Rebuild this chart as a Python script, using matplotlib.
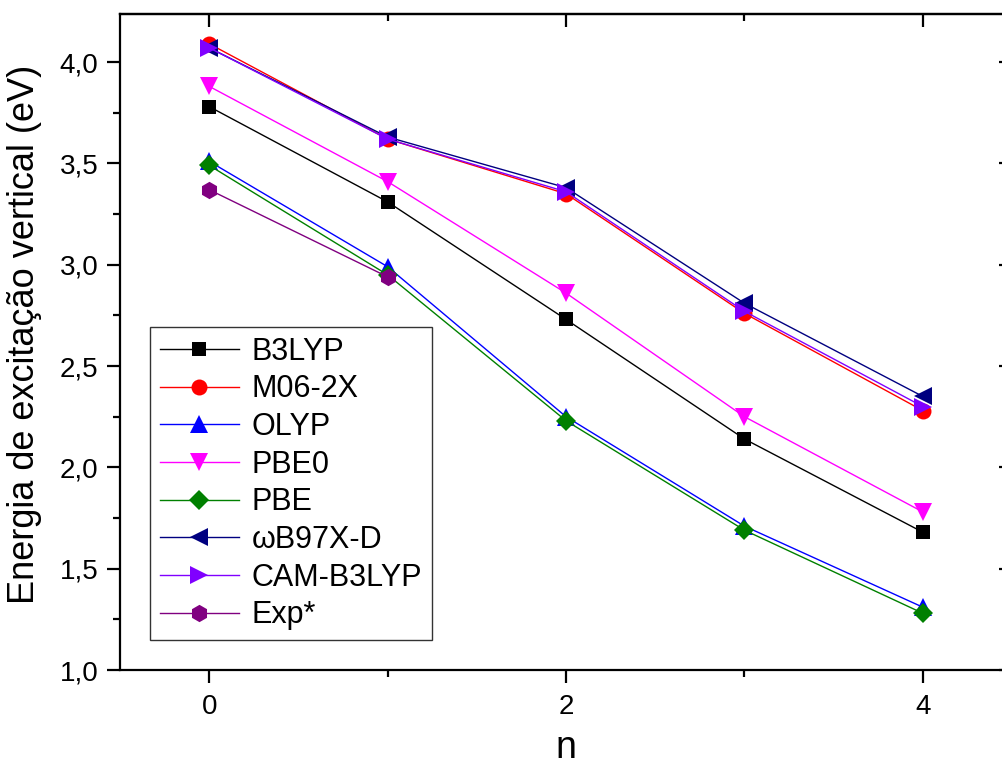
import matplotlib
matplotlib.use("Agg")
import matplotlib.pyplot as plt
from matplotlib.ticker import MultipleLocator, FuncFormatter

plt.rcParams['font.family'] = ['Liberation Sans', 'DejaVu Sans']

n = [0, 1, 2, 3, 4]
n_exp = [0, 1]

b3lyp = [3.78, 3.31, 2.73, 2.14, 1.68]
m062x = [4.09, 3.62, 3.35, 2.76, 2.28]
olyp = [3.51, 2.99, 2.25, 1.71, 1.31]
pbe0 = [3.88, 3.41, 2.86, 2.25, 1.78]
pbe = [3.49, 2.95, 2.23, 1.69, 1.28]
wb97xd = [4.07, 3.63, 3.38, 2.81, 2.35]
camb3lyp = [4.07, 3.62, 3.36, 2.77, 2.30]
exp = [3.37, 2.94]

series = [
    ("B3LYP", n, b3lyp, "#000000", "s"),
    ("M06-2X", n, m062x, "#FF0000", "o"),
    ("OLYP", n, olyp, "#0000FF", "^"),
    ("PBE0", n, pbe0, "#FF00FF", "v"),
    ("PBE", n, pbe, "#008000", "D"),
    ("\u03c9B97X-D", n, wb97xd, "#000080", "<"),
    ("CAM-B3LYP", n, camb3lyp, "#8000FF", ">"),
    ("Exp*", n_exp, exp, "#800080", "h"),
]
sizes = {"s": 10.5, "o": 11.5, "^": 13, "v": 13, "D": 10.5, "<": 13, ">": 13, "h": 12.5}

fig = plt.figure(figsize=(10.03, 7.66), dpi=100)
ax = fig.add_axes([120/1003, 96/766, 892/1003, 656/766])

for label, x, y, c, m in series:
    ax.plot(x, y, color=c, marker=m, markersize=sizes[m], linewidth=1.0,
            markeredgewidth=0, label=label)

ax.set_xlim(-0.5, 4.5)
ax.set_ylim(1.0, 4.237)
ax.xaxis.set_major_locator(MultipleLocator(2))
ax.xaxis.set_minor_locator(MultipleLocator(1))
ax.yaxis.set_major_locator(MultipleLocator(0.5))
ax.yaxis.set_minor_locator(MultipleLocator(0.25))
ax.yaxis.set_major_formatter(FuncFormatter(lambda v, p: f"{v:.1f}".replace(".", ",")))

for s in ax.spines.values():
    s.set_linewidth(1.6)
ax.tick_params(which="major", length=9.5, width=1.6, labelsize=20, direction="out")
ax.tick_params(which="minor", length=5, width=1.6, direction="out")
ax.tick_params(axis="x", pad=8)
ax.tick_params(axis="y", pad=6)

# top and right: inward ticks, no labels
top = ax.secondary_xaxis("top")
top.xaxis.set_major_locator(MultipleLocator(2))
top.xaxis.set_minor_locator(MultipleLocator(1))
top.tick_params(which="major", length=9.5, width=1.6, direction="in", labeltop=False)
top.tick_params(which="minor", length=5, width=1.6, direction="in")
top.spines["top"].set_linewidth(1.6)
right = ax.secondary_yaxis("right")
right.yaxis.set_major_locator(MultipleLocator(0.5))
right.yaxis.set_minor_locator(MultipleLocator(0.25))
right.tick_params(which="major", length=9.5, width=1.6, direction="in", labelright=False)
right.tick_params(which="minor", length=5, width=1.6, direction="in")

ax.set_xlabel("n", fontsize=27)
ax.xaxis.set_label_coords(0.5, -0.091)
ax.set_ylabel("Energia de excita\u00e7\u00e3o vertical (eV)", fontsize=26)
ax.yaxis.set_label_coords(-0.087, 0.512)

leg = ax.legend(loc="lower left", bbox_to_anchor=(30/892, 30/656), fontsize=22,
                frameon=True, fancybox=False, borderpad=0.32, labelspacing=0.25,
                handlelength=2.6, handletextpad=0.4, borderaxespad=0)
leg.get_frame().set_edgecolor("black")
leg.get_frame().set_linewidth(1.0)

fig.savefig("out.png", dpi=100)
